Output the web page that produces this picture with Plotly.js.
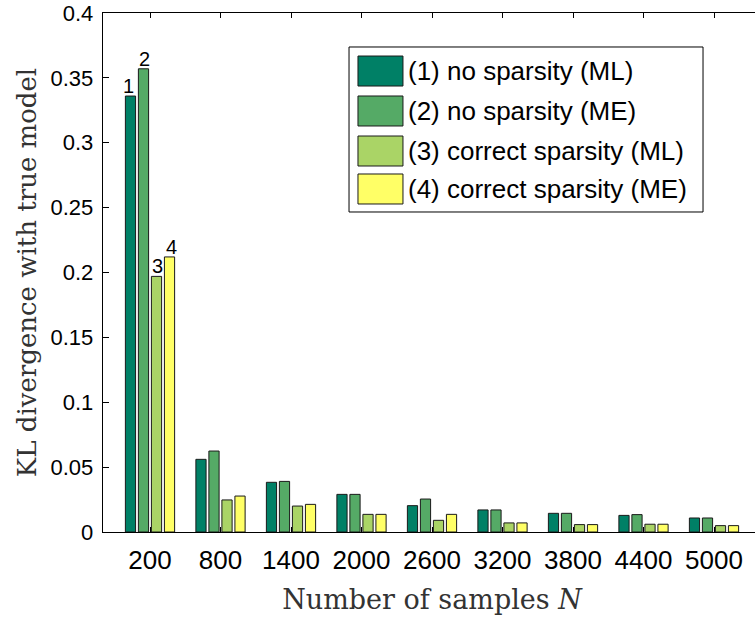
<!DOCTYPE html>
<html>
<head>
<meta charset="utf-8">
<script src="https://cdn.plot.ly/plotly-3.0.1.min.js"></script>
<style>
html,body{margin:0;padding:0;overflow:hidden;background:#fff;}
#chart{width:762px;height:621px;}
</style>
</head>
<body>
<div id="chart"></div>
<script>
// ---- data ----
var sampleSizes = [200, 800, 1400, 2000, 2600, 3200, 3800, 4400, 5000];
var tickLabels = ['200', '800', '1400', '2000', '2600', '3200', '3800', '4400', '5000'];
var noSparsityML = [0.336, 0.056, 0.0383, 0.029, 0.0203, 0.017, 0.0144, 0.0128, 0.0108];
var noSparsityME = [0.357, 0.0624, 0.039, 0.029, 0.0254, 0.017, 0.0144, 0.0134, 0.0108];
var correctSparsityML = [0.197, 0.0247, 0.020, 0.0136, 0.009, 0.007, 0.0057, 0.006, 0.0049];
var correctSparsityME = [0.212, 0.0277, 0.0213, 0.0136, 0.0136, 0.007, 0.0057, 0.006, 0.0049];
var seriesNames = ['(1) no sparsity (ML)', '(2) no sparsity (ME)', '(3) correct sparsity (ML)', '(4) correct sparsity (ME)'];
var barLabels = ['1', '2', '3', '4'];
var yTickVals = [0, 0.05, 0.1, 0.15, 0.2, 0.25, 0.3, 0.35, 0.4];
var yTickText = ['0', '0.05', '0.1', '0.15', '0.2', '0.25', '0.3', '0.35', '0.4'];

// ---- styling ----
var colors = ['#008066', '#55AA66', '#AAD466', '#FFFF66'];
var allSeries = [noSparsityML, noSparsityME, correctSparsityML, correctSparsityME];

var traces = allSeries.map(function (vals, i) {
  return {
    type: 'bar',
    x: sampleSizes,
    y: vals,
    name: seriesNames[i],
    marker: {color: colors[i], line: {color: '#1a1a1a', width: 1}},
    showlegend: false,
    hoverinfo: 'x+y+name'
  };
});

var annotations = [];
var labelShift = [-22, -6, 7, 21];
barLabels.forEach(function (lab, i) {
  annotations.push({
    xref: 'x', yref: 'y', x: sampleSizes[0], y: allSeries[i][0],
    xshift: labelShift[i], yshift: -3,
    text: lab, showarrow: false, xanchor: 'center', yanchor: 'bottom',
    font: {family: 'Liberation Sans, Arial, sans-serif', size: 20, color: '#000'}
  });
});

// custom legend (box + swatches + text), in paper coordinates
var shapes = [];
shapes.push({type: 'rect', xref: 'paper', yref: 'paper', x0: 0.3739, x1: 0.9119, y0: 0.6166, y1: 0.9345,
  line: {color: '#000', width: 1}, fillcolor: '#fff', layer: 'above'});
var swY = [[0.8593, 0.9171], [0.7823, 0.8401], [0.7052, 0.7630], [0.6320, 0.6898]];
var txtY = [0.8882, 0.8112, 0.7341, 0.6609];
seriesNames.forEach(function (nm, i) {
  shapes.push({type: 'rect', xref: 'paper', yref: 'paper', x0: 0.3875, x1: 0.4559, y0: swY[i][0], y1: swY[i][1],
    line: {color: '#1a1a1a', width: 1}, fillcolor: colors[i], layer: 'above'});
  annotations.push({
    xref: 'paper', yref: 'paper', x: 0.4610, y: txtY[i], text: nm, showarrow: false,
    xanchor: 'left', yanchor: 'middle',
    font: {family: 'Liberation Sans, Arial, sans-serif', size: 26, color: '#000'}
  });
});

var layout = {
  width: 762, height: 621,
  margin: {l: 103, r: 1, t: 13, b: 89, pad: 0},
  paper_bgcolor: '#fff', plot_bgcolor: '#fff',
  barmode: 'group', bargap: 0.262, bargroupgap: 0.215,
  showlegend: false,
  xaxis: {
    range: [-200, 5400], tickvals: sampleSizes, ticktext: tickLabels,
    ticks: 'inside', ticklen: 5, tickwidth: 1, tickcolor: '#000',
    showline: true, linecolor: '#000', linewidth: 1.3, mirror: 'ticks',
    showgrid: false, zeroline: false, ticklabelstandoff: 4,
    tickfont: {family: 'Liberation Sans, Arial, sans-serif', size: 26, color: '#000'},
    title: {text: 'Number of samples <i>N</i>', standoff: 16,
      font: {family: 'DejaVu Serif, serif', size: 27, color: '#333'}},
    automargin: false
  },
  yaxis: {
    range: [0, 0.4], tickvals: yTickVals, ticktext: yTickText,
    ticks: 'inside', ticklen: 6, tickwidth: 1, tickcolor: '#000',
    showline: true, linecolor: '#000', linewidth: 1.3, mirror: 'ticks',
    showgrid: false, zeroline: false, ticklabelstandoff: 4,
    tickfont: {family: 'Liberation Sans, Arial, sans-serif', size: 22, color: '#000'},
    title: {text: 'KL divergence with true model', standoff: 6,
      font: {family: 'DejaVu Serif, serif', size: 26, color: '#333'}},
    automargin: false
  },
  shapes: shapes,
  annotations: annotations
};

Plotly.newPlot('chart', traces, layout, {displayModeBar: false, staticPlot: true});
</script>
</body>
</html>
